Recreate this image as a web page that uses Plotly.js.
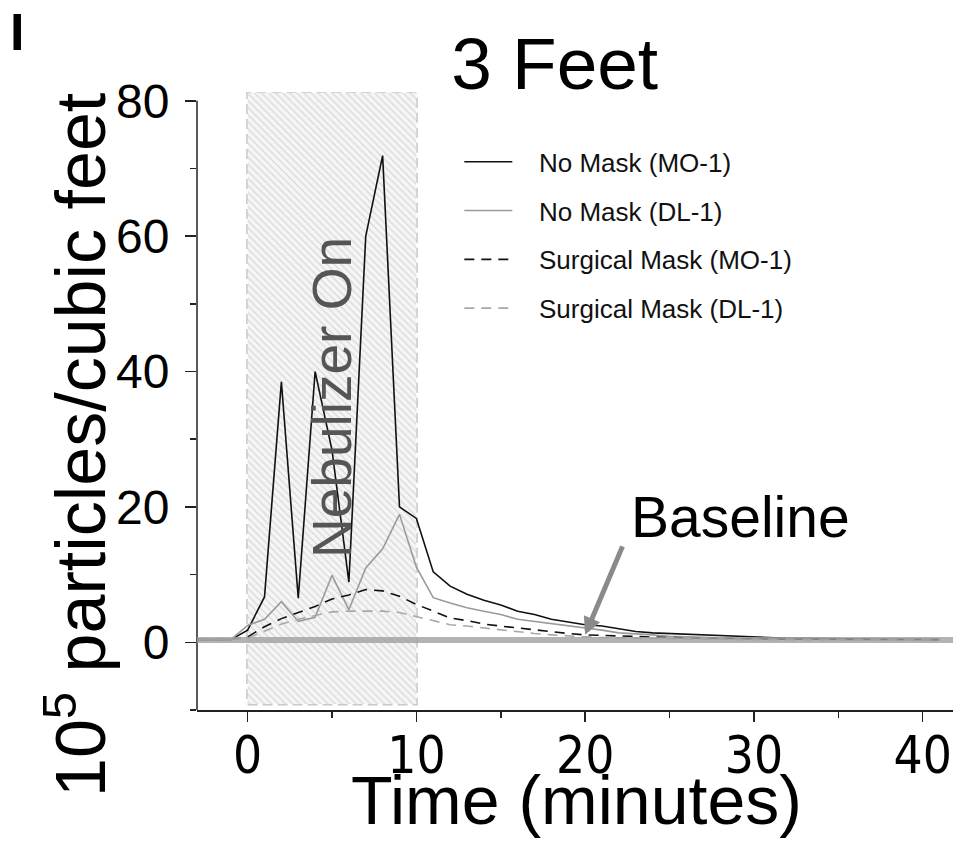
<!DOCTYPE html>
<html>
<head>
<meta charset="utf-8">
<script src="https://cdn.plot.ly/plotly-3.0.1.min.js"></script>
<style>
  html, body { margin: 0; padding: 0; background: #fff; }
  #chart { width: 953px; height: 841px; }
</style>
</head>
<body>
<div id="chart"></div>
<script>
// Particle counts at 3 feet, sampled once a minute (10^5 particles / cubic foot)
const timeMin = [-3, -2, -1, 0, 1, 2, 3, 4, 5, 6, 7, 8, 9, 10, 11, 12, 13, 14, 15, 16, 17, 18, 19, 20,
  21, 22, 23, 24, 25, 26, 27, 28, 29, 30, 31, 32, 33, 34, 35, 36, 37, 38, 39, 40, 41];

const noMaskMO1 = [0.4, 0.4, 0.4, 1.8, 6.7, 38.5, 6.5, 40.0, 28.4, 8.9, 60.0, 71.9, 20.0, 18.3, 10.4,
  8.3, 7.1, 6.2, 5.5, 4.6, 4.1, 3.4, 3.0, 2.6, 2.4, 2.0, 1.6, 1.4, 1.3, 1.1, 1.0, 0.9, 0.8, 0.7,
  0.65, 0.6, 0.6, 0.55, 0.55, 0.5, 0.5, 0.45, 0.45, 0.4, 0.4];

const noMaskDL1 = [0.4, 0.4, 0.4, 2.5, 3.4, 6.0, 3.1, 3.7, 9.9, 4.8, 11.0, 13.8, 18.9, 11.1, 6.6,
  5.8, 5.1, 4.6, 4.1, 3.4, 3.1, 2.8, 2.4, 2.2, 1.8, 1.4, 1.3, 1.1, 0.9, 0.8, 0.7, 0.65, 0.6, 0.55,
  0.5, 0.5, 0.5, 0.45, 0.45, 0.45, 0.4, 0.4, 0.4, 0.4, 0.4];

const surgicalMO1 = [0.4, 0.4, 0.4, 0.8, 2.3, 3.5, 4.4, 5.3, 6.4, 7.0, 7.8, 7.6, 6.8, 5.6, 4.6,
  3.6, 3.2, 2.7, 2.4, 2.1, 1.8, 1.5, 1.3, 1.1, 1.0, 0.9, 0.8, 0.75, 0.7, 0.65, 0.6, 0.55, 0.5, 0.5,
  0.5, 0.45, 0.45, 0.45, 0.4, 0.4, 0.4, 0.4, 0.4, 0.4, 0.4];

const surgicalDL1 = [0.4, 0.4, 0.4, 0.6, 1.7, 2.7, 3.4, 4.0, 4.5, 4.6, 4.6, 4.6, 4.4, 3.8, 3.1,
  2.6, 2.4, 2.1, 1.8, 1.5, 1.3, 1.1, 0.9, 0.8, 0.7, 0.65, 0.6, 0.55, 0.5, 0.45, 0.45, 0.4, 0.4, 0.4,
  0.4, 0.4, 0.4, 0.4, 0.4, 0.4, 0.4, 0.4, 0.4, 0.4, 0.4];

const seriesNames = ['No Mask (MO-1)', 'No Mask (DL-1)', 'Surgical Mask (MO-1)', 'Surgical Mask (DL-1)'];

// Nebulizer running window and the background level
const nebulizerStart = 0;
const nebulizerEnd = 10;
const nebulizerBoxBottom = -9.1;
const nebulizerBoxTop = 81.2;
const baselineLevel = 0.35;
const baselineArrowTime = 20;
const baselineArrowLevel = 1.1;

const xTickVals = [0, 10, 20, 30, 40];
const yTickVals = [0, 20, 40, 60, 80];

const FONT = 'Liberation Sans, Arial, Helvetica, sans-serif';
const NARROW = 'Liberation Sans Narrow, DejaVu Sans Condensed, Liberation Sans, Arial, sans-serif';
const GAP = '\u00a0\u00a0\u00a0';

// hatched "Nebulizer On" window
const boxX = [nebulizerStart, nebulizerEnd, nebulizerEnd, nebulizerStart, nebulizerStart];
const boxY = [nebulizerBoxBottom, nebulizerBoxBottom, nebulizerBoxTop, nebulizerBoxTop, nebulizerBoxBottom];

const traces = [
  {
    x: boxX, y: boxY, type: 'scatter', mode: 'lines',
    fill: 'toself', showlegend: false, hoverinfo: 'skip',
    line: { width: 0, color: 'rgba(0,0,0,0)' },
    fillcolor: '#f4f4f4',
    fillpattern: { shape: '\\', fgcolor: '#d6d6d6', bgcolor: '#f5f5f5', size: 5, solidity: 0.22, fillmode: 'replace' }
  },
  {
    x: timeMin, y: noMaskMO1, name: GAP + seriesNames[0], legendgroup: 'a', type: 'scatter', mode: 'lines',
    line: { color: '#111111', width: 1.6 }
  },
  {
    x: timeMin, y: noMaskDL1, name: GAP + seriesNames[1], legendgroup: 'b', type: 'scatter', mode: 'lines',
    line: { color: '#9a9a9a', width: 1.6 }
  },
  {
    x: timeMin, y: surgicalMO1, name: GAP + seriesNames[2], legendgroup: 'c', type: 'scatter', mode: 'lines',
    line: { color: '#111111', width: 1.6, dash: '10px,7px' }
  },
  {
    x: timeMin, y: surgicalDL1, name: GAP + seriesNames[3], legendgroup: 'd', type: 'scatter', mode: 'lines',
    line: { color: '#a8a8a8', width: 1.6, dash: '10px,7px' }
  }
];

const axisColor = '#222222';

const layout = {
  width: 953,
  height: 841,
  margin: { l: 197, r: 0, t: 92, b: 131 },
  paper_bgcolor: '#ffffff',
  plot_bgcolor: '#ffffff',
  font: { family: FONT, color: '#000000' },
  title: {
    text: '3 Feet',
    x: 0.582, xanchor: 'center',
    y: 0.924, yanchor: 'middle',
    font: { family: FONT, size: 73, color: '#000000' }
  },
  showlegend: true,
  legend: {
    x: 0.347, y: 0.925, xanchor: 'left', yanchor: 'top',
    bgcolor: 'rgba(0,0,0,0)',
    font: { family: FONT, size: 26, color: '#111111' },
    itemwidth: 48,
    tracegroupgap: 12
  },
  xaxis: {
    range: [-3, 41.8],
    showgrid: false, zeroline: false,
    showline: true, linecolor: axisColor, linewidth: 1.5,
    ticks: 'outside', ticklen: 10, tickwidth: 1.5, tickcolor: axisColor,
    tickmode: 'array', tickvals: xTickVals,
    tickfont: { family: NARROW, size: 51, color: '#000000' },
    ticklabelstandoff: -10,
    minor: { dtick: 5, tick0: 0, ticks: 'outside', ticklen: 6, tickwidth: 1.5, tickcolor: axisColor, showgrid: false }
  },
  yaxis: {
    range: [-10, 81.3],
    showgrid: false, zeroline: false,
    showline: false,
    ticks: 'outside', ticklen: 11, tickwidth: 1.5, tickcolor: axisColor,
    tickmode: 'array', tickvals: yTickVals,
    tickfont: { family: FONT, size: 48, color: '#000000' },
    ticklabelstandoff: 6,
    minor: { dtick: 10, tick0: 0, ticks: 'outside', ticklen: 6, tickwidth: 1.5, tickcolor: axisColor, showgrid: false }
  },
  shapes: [
    // y axis spine, stopping at the top tick
    {
      type: 'line', xref: 'paper', yref: 'y', x0: 0, x1: 0, y0: -10, y1: 80,
      line: { color: axisColor, width: 1.5 }
    },
    // dashed outline of the nebulizer window
    {
      type: 'rect', xref: 'x', yref: 'y', layer: 'below',
      x0: nebulizerStart, x1: nebulizerEnd, y0: nebulizerBoxBottom, y1: nebulizerBoxTop,
      line: { color: '#c9c9c9', width: 3, dash: '10px,5px' }
    },
    // baseline level
    {
      type: 'line', xref: 'paper', yref: 'y', x0: 0, x1: 1, y0: baselineLevel, y1: baselineLevel,
      layer: 'above',
      line: { color: 'rgba(165,158,158,0.8)', width: 6 }
    }
  ],
  annotations: [
    {
      text: 'I', xref: 'paper', yref: 'paper', x: -0.238, y: 1.148,
      xanchor: 'center', yanchor: 'top', showarrow: false,
      font: { family: FONT, size: 52, color: '#000000', weight: 'bold' }
    },
    {
      text: '10<sup>5</sup> particles/cubic feet', xref: 'paper', yref: 'paper',
      x: (76 - 197) / 756, y: (710 - 445) / 618, xanchor: 'center', yanchor: 'middle',
      textangle: -90, showarrow: false,
      font: { family: FONT, size: 70, color: '#000000' }
    },
    {
      text: 'Time (minutes)', xref: 'paper', yref: 'paper',
      x: (576 - 197) / 756, y: (710 - 800) / 618, xanchor: 'center', yanchor: 'middle',
      showarrow: false,
      font: { family: FONT, size: 68, color: '#000000' }
    },
    {
      text: 'Nebulizer On', xref: 'x', yref: 'y',
      x: (nebulizerStart + nebulizerEnd) / 2, y: 36.1, xanchor: 'center', yanchor: 'middle',
      textangle: -90, showarrow: false,
      font: { family: FONT, size: 55, color: '#555555' }
    },
    {
      text: 'Baseline', xref: 'x', yref: 'y',
      x: 29.2, y: 18.5, xanchor: 'center', yanchor: 'middle',
      showarrow: false,
      font: { family: FONT, size: 57, color: '#000000' }
    },
    {
      text: '', xref: 'x', yref: 'y',
      x: baselineArrowTime, y: baselineArrowLevel,
      ax: 38, ay: -90, axref: 'pixel', ayref: 'pixel',
      showarrow: true, arrowhead: 2, arrowsize: 0.7, arrowwidth: 5, arrowcolor: '#8a8a8a'
    }
  ]
};

Plotly.newPlot('chart', traces, layout, { staticPlot: true, displayModeBar: false });
</script>
</body>
</html>
